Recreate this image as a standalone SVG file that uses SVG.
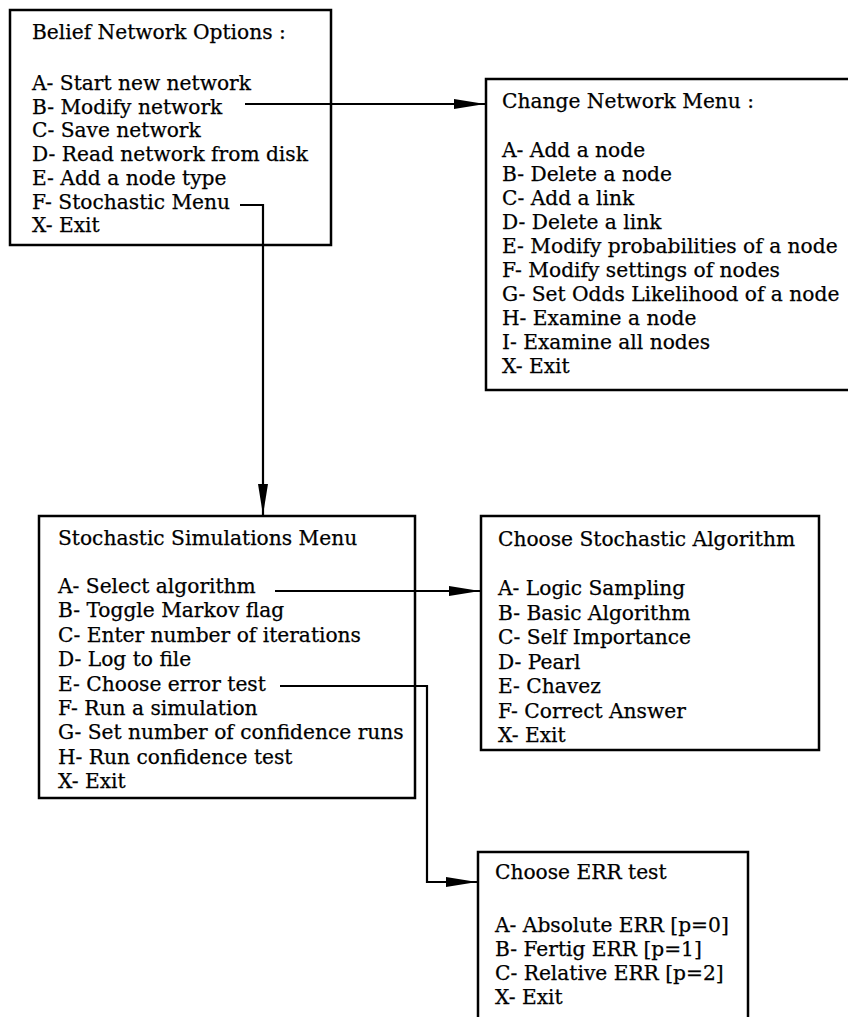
<svg xmlns="http://www.w3.org/2000/svg" width="848" height="1017" viewBox="0 0 848 1017">
  <style>
    .box { fill: #fff; stroke: #000; stroke-width: 2.5; }
    .t { font-family: "DejaVu Serif", "Liberation Serif", serif; font-size: 20.2px; fill: #000; stroke: #000; stroke-width: 0.25; }
    .wire { fill: none; stroke: #000; stroke-width: 2.2; }
  </style>
  <defs>
    <marker id="arrow" markerUnits="userSpaceOnUse" markerWidth="32" markerHeight="12" refX="31" refY="6" orient="auto">
      <path d="M0,1 L31,6 L0,11 z" fill="#000"/>
    </marker>
  </defs>

  <rect width="848" height="1017" fill="#fff"/>

  <!-- main options menu -->
  <g id="belief-network-options">
    <rect class="box" x="10" y="10" width="321" height="235"/>
    <text class="t" x="32" y="39">Belief Network Options :</text>
    <text class="t" x="32" y="90">A- Start new network</text>
    <text class="t" x="32" y="113.7">B- Modify network</text>
    <text class="t" x="32" y="137.4">C- Save network</text>
    <text class="t" x="32" y="161.1">D- Read network from disk</text>
    <text class="t" x="32" y="184.8">E- Add a node type</text>
    <text class="t" x="32" y="208.5">F- Stochastic Menu</text>
    <text class="t" x="32" y="232.2">X- Exit</text>
  </g>

  <!-- network editing menu -->
  <g id="change-network-menu">
    <rect class="box" x="486" y="79" width="380" height="311"/>
    <text class="t" x="502" y="108">Change Network Menu :</text>
    <text class="t" x="502" y="157">A- Add a node</text>
    <text class="t" x="502" y="181">B- Delete a node</text>
    <text class="t" x="502" y="205">C- Add a link</text>
    <text class="t" x="502" y="229">D- Delete a link</text>
    <text class="t" x="502" y="253">E- Modify probabilities of a node</text>
    <text class="t" x="502" y="277">F- Modify settings of nodes</text>
    <text class="t" x="502" y="301">G- Set Odds Likelihood of a node</text>
    <text class="t" x="502" y="325">H- Examine a node</text>
    <text class="t" x="502" y="349">I- Examine all nodes</text>
    <text class="t" x="502" y="373">X- Exit</text>
  </g>

  <!-- simulation menu -->
  <g id="stochastic-simulations-menu">
    <rect class="box" x="39" y="516" width="376" height="282"/>
    <text class="t" x="58" y="545">Stochastic Simulations Menu</text>
    <text class="t" x="58" y="593">A- Select algorithm</text>
    <text class="t" x="58" y="617.4">B- Toggle Markov flag</text>
    <text class="t" x="58" y="641.8">C- Enter number of iterations</text>
    <text class="t" x="58" y="666.2">D- Log to file</text>
    <text class="t" x="58" y="690.6">E- Choose error test</text>
    <text class="t" x="58" y="715">F- Run a simulation</text>
    <text class="t" x="58" y="739.4">G- Set number of confidence runs</text>
    <text class="t" x="58" y="763.8">H- Run confidence test</text>
    <text class="t" x="58" y="788.2">X- Exit</text>
  </g>

  <!-- algorithm choice menu -->
  <g id="choose-stochastic-algorithm">
    <rect class="box" x="481" y="516" width="338" height="234"/>
    <text class="t" x="498" y="546">Choose Stochastic Algorithm</text>
    <text class="t" x="498" y="595">A- Logic Sampling</text>
    <text class="t" x="498" y="619.5">B- Basic Algorithm</text>
    <text class="t" x="498" y="644">C- Self Importance</text>
    <text class="t" x="498" y="668.5">D- Pearl</text>
    <text class="t" x="498" y="693">E- Chavez</text>
    <text class="t" x="498" y="717.5">F- Correct Answer</text>
    <text class="t" x="498" y="742">X- Exit</text>
  </g>

  <!-- error test menu -->
  <g id="choose-err-test">
    <rect class="box" x="478" y="852" width="270" height="190"/>
    <text class="t" x="495" y="879">Choose ERR test</text>
    <text class="t" x="495" y="932">A- Absolute ERR [p=0]</text>
    <text class="t" x="495" y="956">B- Fertig ERR [p=1]</text>
    <text class="t" x="495" y="980">C- Relative ERR [p=2]</text>
    <text class="t" x="495" y="1004">X- Exit</text>
  </g>

  <!-- menu transitions -->
  <g id="connectors">
    <path class="wire" d="M245,104 H485" marker-end="url(#arrow)"/>
    <path class="wire" d="M240,205 H263 V515" marker-end="url(#arrow)"/>
    <path class="wire" d="M275,591 H480" marker-end="url(#arrow)"/>
    <path class="wire" d="M280,686 H427 V882 H477" marker-end="url(#arrow)"/>
  </g>
</svg>
